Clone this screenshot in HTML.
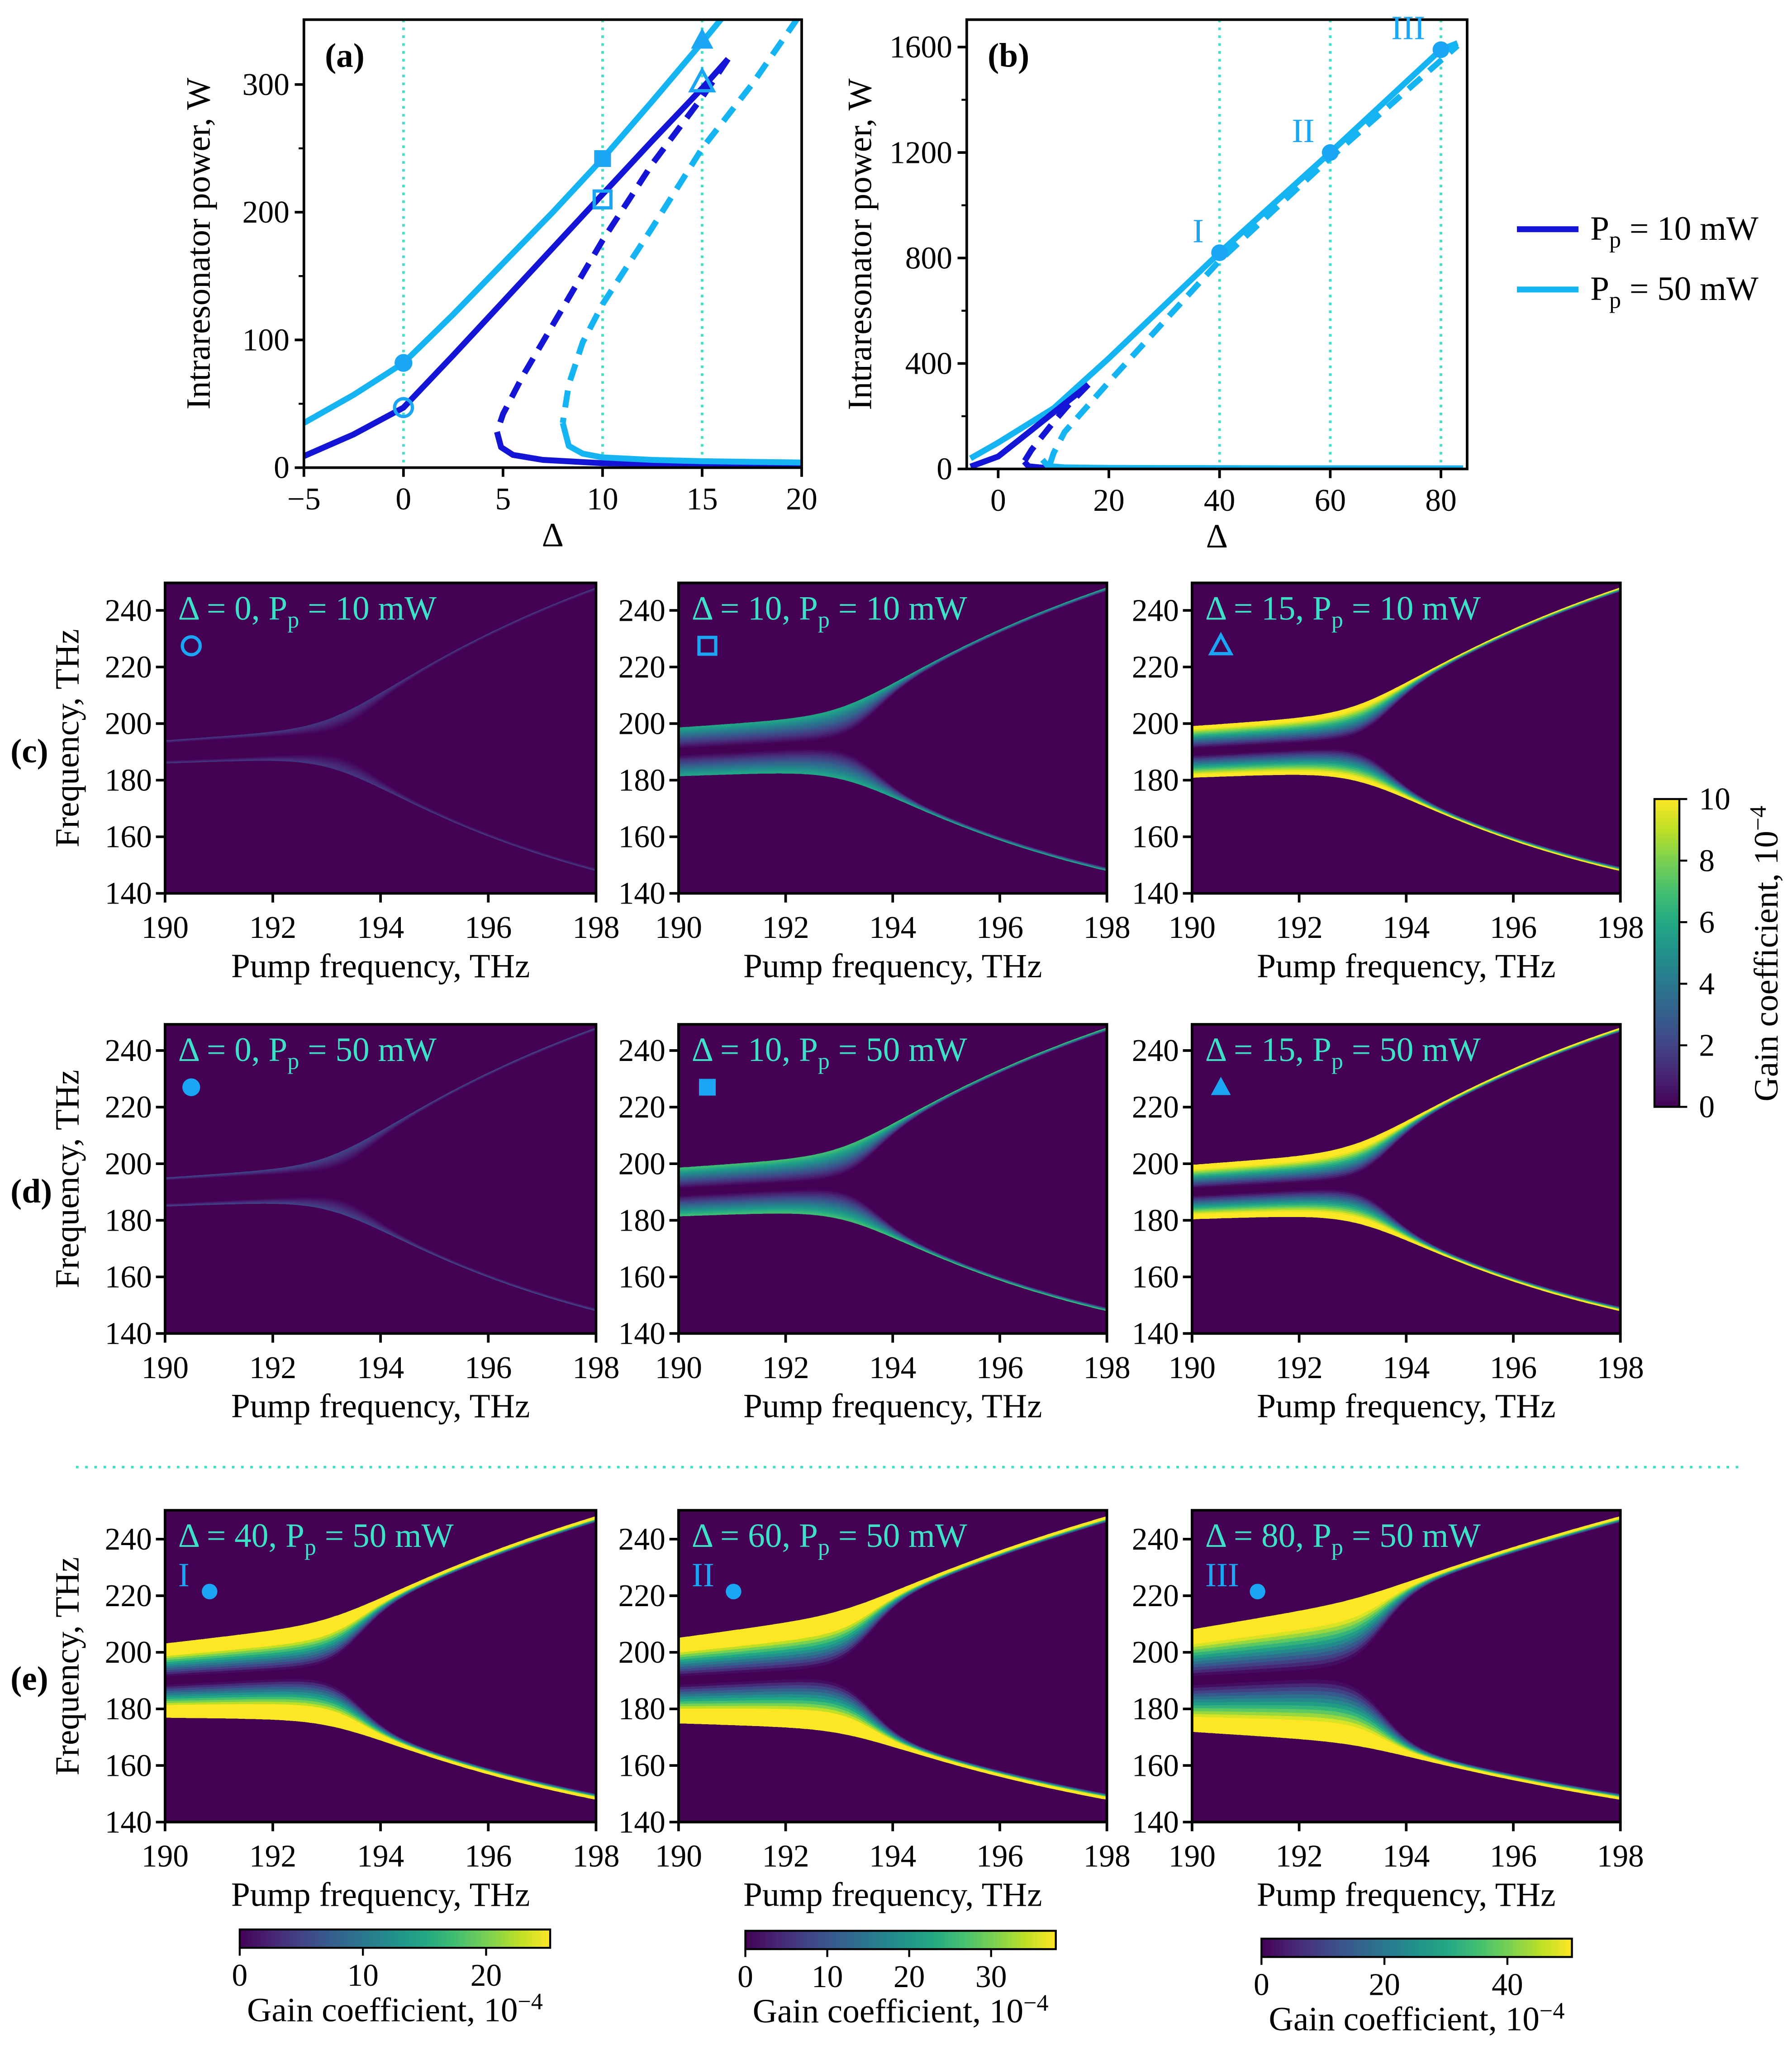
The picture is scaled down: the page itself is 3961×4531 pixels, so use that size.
<!DOCTYPE html>
<html><head><meta charset="utf-8">
<style>
html,body{margin:0;padding:0;background:#fff;}
svg{display:block;}
text{font-family:"Liberation Serif","DejaVu Serif",serif;}
</style></head>
<body>
<svg id="fig" xmlns="http://www.w3.org/2000/svg" width="3961" height="4531" viewBox="0 0 1368 1565" preserveAspectRatio="none">
<defs>
<linearGradient id="vir-v" x1="0" y1="1" x2="0" y2="0">
<stop offset="0" stop-color="#440154"/><stop offset="0.1" stop-color="#482475"/><stop offset="0.2" stop-color="#414487"/><stop offset="0.3" stop-color="#355f8d"/><stop offset="0.4" stop-color="#2a788e"/><stop offset="0.5" stop-color="#21918c"/><stop offset="0.6" stop-color="#22a884"/><stop offset="0.7" stop-color="#44bf70"/><stop offset="0.8" stop-color="#7ad151"/><stop offset="0.9" stop-color="#bddf26"/><stop offset="1" stop-color="#fde725"/>
</linearGradient>
<linearGradient id="vir-h" x1="0" y1="0" x2="1" y2="0">
<stop offset="0" stop-color="#440154"/><stop offset="0.1" stop-color="#482475"/><stop offset="0.2" stop-color="#414487"/><stop offset="0.3" stop-color="#355f8d"/><stop offset="0.4" stop-color="#2a788e"/><stop offset="0.5" stop-color="#21918c"/><stop offset="0.6" stop-color="#22a884"/><stop offset="0.7" stop-color="#44bf70"/><stop offset="0.8" stop-color="#7ad151"/><stop offset="0.9" stop-color="#bddf26"/><stop offset="1" stop-color="#fde725"/>
</linearGradient>
</defs>
<g id="root"></g>
</svg>
<script>
// ---------- data: panel (a) ----------
const aDarkSolidUpper = [[-5,9],[-2.5,26],[0,47],[2.5,88],[5,130],[7.5,172],[10,214],[12.5,256],[15,297],[16.3,320]];
const aDarkDashed = [[16.3,320],[15,290],[12.5,238],[10,178],[8,125],[6,72],[5,42],[4.7,28]];
const aDarkSolidLower = [[4.7,28],[4.9,16],[5.5,10],[7,6],[10,3.5],[15,2.5],[20,2]];
const aLightSolidUpper = [[-5,35],[-2.5,57],[0,82],[2.5,120],[5,160],[7.5,200],[10,242],[12.5,287],[15,333],[16,352]];
const aLightDashed = [[19.8,352],[17.5,300],[15,250],[12.5,188],[10,128],[9,98],[8.3,65],[8.0,35]];
const aLightSolidLower = [[8.0,35],[8.3,17],[9,11],[10,8],[12.5,6],[15,5],[20,4]];
// ---------- data: panel (b) ----------
const bLightSolid = [[-5,40],[0,100],[10,230],[20,420],[40,820],[60,1200],[80,1590],[83,1615]];
const bLightDashed = [[9.3,15],[10,60],[12,140],[20,330],[40,790],[60,1180],[83,1605]];
const bDarkSolid = [[-5,9],[0,47],[5,130],[10,214],[15,297],[16.3,320]];
const bDarkDashed = [[16.3,320],[12.5,238],[10,178],[8,125],[6,72],[4.7,28]];
const bLightLower = [[8.0,35],[9,11],[12,6],[20,4],[40,3],[84,2]];
const bDarkLower = [[4.7,28],[5.5,10],[8,5],[20,3],[84,2]];
const bPoints = [[40,820],[60,1200],[80,1590]];
const bPointLabels = ["I","II","III"];
// ---------- data: heatmaps ----------
const hmLabelsDelta = ["0","10","15","0","10","15","40","60","80"];
const hmLabelsPower = ["10","10","10","50","50","50","50","50","50"];
const hmPeak = [0.16, 0.6, 1.15, 0.2, 0.7, 1.25, 1.6, 1.6, 1.5];   // peak gain relative to its colorbar max
const hmOuterOffset0 = [4, 8.5, 9, 5, 8.5, 9.5, 13, 15, 18];     // THz offset of outer band edge at 190 THz
const hmSlope = [0.3, 0.3, 0.3, 0.3, 0.3, 0.4, 1.2, 1.6, 2.2];
const hmInnerGap = [3.4, 1.2, 1.3, 4.2, 1.3, 1.4, 1.6, 1.6, 1.7];
const hmTailWidth = [0.9, 1.1, 1.3, 0.9, 1.1, 1.4, 2.0, 2.0, 2.0];
const xTicksHm = [190,192,194,196,198];
const yTicksHm = [140,160,180,200,220,240];
const cbRightTicks = [0,2,4,6,8,10];
const cbBottomMax = [25.2, 37.9, 50.5];
const cbBottomTicks = [[0,10,20],[0,10,20,30],[0,20,40]];

const NS="http://www.w3.org/2000/svg";
const root=document.getElementById('root');
function el(tag,attrs,parent){const e=document.createElementNS(NS,tag);for(const k in attrs)e.setAttribute(k,attrs[k]);(parent||root).appendChild(e);return e;}
function txt(str,attrs,parent){const t=el('text',attrs,parent);t.textContent=str;return t;}

const VIR=["#440154","#482475","#414487","#355f8d","#2a788e","#21918c","#22a884","#44bf70","#7ad151","#bddf26","#fde725"];
function hex(c){return [parseInt(c.substr(1,2),16),parseInt(c.substr(3,2),16),parseInt(c.substr(5,2),16)];}
function viridis(v){v=Math.max(0,Math.min(1,v));const s=v*10;const i=Math.min(9,Math.floor(s));const f=s-i;const a=hex(VIR[i]),b=hex(VIR[i+1]);return `rgb(${Math.round(a[0]+(b[0]-a[0])*f)},${Math.round(a[1]+(b[1]-a[1])*f)},${Math.round(a[2]+(b[2]-a[2])*f)})`;}

const DARK="#1414d6", LIGHT="#14b4f2", TURQ="#3fe0c8", MARK="#1aa6f5";
const FT=24, FTT=26;

function linePanel(cfg){
  const g=el('g',{});
  
  
  const {x0,x1,y0,y1,X,Y}=cfg;
  const clipId=cfg.name+'-clip';
  const cp=el('clipPath',{id:clipId},g);el('rect',{x:x0,y:y0,width:x1-x0,height:y1-y0},cp);
  const plot=el('g',{'clip-path':`url(#${clipId})`},g);
  cfg.vlines.forEach(v=>{const l=el('line',{x1:X(v),x2:X(v),y1:y0,y2:y1,stroke:TURQ,'stroke-width':2,'stroke-dasharray':'2 4'},plot);
    
    });
  cfg.series.forEach(s=>{
    const d=s.pts.map((p,i)=>(i?'L':'M')+X(p[0]).toFixed(1)+','+Y(p[1]).toFixed(1)).join(' ');
    const path=el('path',{d:d,fill:'none',stroke:s.color,'stroke-width':4.5,'stroke-dasharray':s.dash?'13 8':'none','stroke-linejoin':'round'},plot);
    
    
  });
  el('rect',{x:x0,y:y0,width:x1-x0,height:y1-y0,fill:'none',stroke:'#000','stroke-width':2},g);
  cfg.xticks.forEach(v=>{const x=X(v);el('line',{x1:x,x2:x,y1:y1,y2:y1+7,stroke:'#000','stroke-width':2},g);
    const t=txt(v<0?'\u2212'+(-v):String(v),{x:x,y:y1+32,'font-size':FT,'text-anchor':'middle'},g);
    
    });
  cfg.yticks.forEach(v=>{const y=Y(v);el('line',{x1:x0,x2:x0-7,y1:y,y2:y,stroke:'#000','stroke-width':2},g);
    const t=txt(String(v),{x:x0-11,y:y+8,'font-size':FT,'text-anchor':'end'},g);
    
    });
  cfg.yminor.forEach(v=>{const y=Y(v);el('line',{x1:x0,x2:x0-4,y1:y,y2:y,stroke:'#000','stroke-width':1.5},g);});
  const xt=txt('\u0394',{x:(x0+x1)/2,y:y1+60,'font-size':FTT,'text-anchor':'middle'},g);
  
  
  const yt=txt('Intraresonator power, W',{x:0,y:0,'font-size':FTT,'text-anchor':'middle',transform:`translate(${cfg.ytx},${(y0+y1)/2}) rotate(-90)`},g);
  
  
  const pl=txt(cfg.label,{x:x0+16,y:y0+36,'font-size':FTT,'font-weight':'bold'},g);
  
  
  return {g,plot};
}

const Xa=d=>232+(d+5)*15.2, Ya=P=>357-P*0.975;
const pa=linePanel({name:'panel-a',x0:232,x1:612,y0:15,y1:357,X:Xa,Y:Ya,vlines:[0,10,15],
  xticks:[-5,0,5,10,15,20],yticks:[0,100,200,300],yminor:[50,150,250],ytx:160,label:'(a)',
  series:[
   {name:'series-10mw-stable-upper',pts:aDarkSolidUpper,color:DARK},
   {name:'series-10mw-unstable',pts:aDarkDashed,color:DARK,dash:true},
   {name:'series-10mw-stable-lower',pts:aDarkSolidLower,color:DARK},
   {name:'series-50mw-stable-upper',pts:aLightSolidUpper,color:LIGHT},
   {name:'series-50mw-unstable',pts:aLightDashed,color:LIGHT,dash:true},
   {name:'series-50mw-stable-lower',pts:aLightSolidLower,color:LIGHT}]});
function marker(g,type,x,y,filled,name,size){
  size=size||8;let m;
  const fill=filled?MARK:'none';
  if(type==='circle') m=el('circle',{cx:x,cy:y,r:size*0.85,fill:fill,stroke:MARK},g);
  else if(type==='square') m=el('rect',{x:x-size*0.8,y:y-size*0.8,width:size*1.6,height:size*1.6,fill:fill,stroke:MARK},g);
  else m=el('polygon',{points:`${x},${y-size} ${x+size*0.95},${y+size*0.75} ${x-size*0.95},${y+size*0.75}`,fill:fill,stroke:MARK},g);
  m.setAttribute('stroke-width',filled?0:2.5);
  
  
  return m;
}
marker(pa.g,'circle',Xa(0),Ya(82),true,'marker-filled-circle');
marker(pa.g,'circle',Xa(0),Ya(47),false,'marker-hollow-circle');
marker(pa.g,'square',Xa(10),Ya(242),true,'marker-filled-square');
marker(pa.g,'square',Xa(10),Ya(210),false,'marker-hollow-square');
marker(pa.g,'tri',Xa(15),Ya(335),true,'marker-filled-triangle',9);
marker(pa.g,'tri',Xa(15),Ya(302),false,'marker-hollow-triangle',9);

const Xb=d=>762+d*4.225, Yb=P=>358-P*0.2013;
const pb=linePanel({name:'panel-b',x0:738,x1:1120,y0:15,y1:358,X:Xb,Y:Yb,vlines:[40,60,80],
  xticks:[0,20,40,60,80],yticks:[0,400,800,1200,1600],yminor:[200,600,1000,1400],ytx:665,label:'(b)',
  series:[
   {name:'series-10mw-lower',pts:bDarkLower,color:DARK},
   {name:'series-50mw-lower',pts:bLightLower,color:LIGHT},
   {name:'series-50mw-unstable',pts:bLightDashed,color:LIGHT,dash:true},
   {name:'series-50mw-stable',pts:bLightSolid,color:LIGHT},
   {name:'series-10mw-unstable',pts:bDarkDashed,color:DARK,dash:true},
   {name:'series-10mw-stable',pts:bDarkSolid,color:DARK}]});
bPoints.forEach((p,i)=>{
  marker(pb.g,'circle',Xb(p[0]),Yb(p[1]),true,'operating-point-'+bPointLabels[i],7.5);
  const t=txt(bPointLabels[i],{x:Xb(p[0])-12,y:Yb(p[1])-8,'font-size':FTT,fill:MARK,'text-anchor':'end'},pb.g);
  
  
});

const lg=el('g',{});


[[DARK,'10',175],[LIGHT,'50',221]].forEach(([c,v,y])=>{
  const e=el('g',{},lg);
  
  
  el('line',{x1:1158,x2:1205,y1:y,y2:y,stroke:c,'stroke-width':4.5},e);
  const t=el('text',{x:1214,y:y+8,'font-size':FTT},e);
  t.innerHTML='P<tspan font-size="18" dy="6">p</tspan><tspan dy="-6"> = '+v+' mW</tspan>';
});

// ---------- heatmaps ----------
const colX=[126,518,910], colW=[329,327,327];
const rows=[{top:445,y140:682},{top:782,y140:1018},{top:1153,y140:1391}];
const SC=2.16;
function sp(p){const w=0.45;return w*Math.log(1+Math.exp((p-193.1)/w));}
function rise(p){return 1-Math.exp(-sp(p)/6);}
function sig(z){return 1/(1+Math.exp(-z));}
const markerTypes=[['circle',false],['square',false],['tri',false],['circle',true],['square',true],['tri',true]];
for(let i=0;i<9;i++){
  const r=Math.floor(i/3), c=i%3;
  const x0=colX[c], w=colW[c], y0=rows[r].top, y1=rows[r].y140;
  const PX=p=>x0+(p-190)/8*w, PY=f=>y1-(f-140)*SC;
  const g=el('g',{});
  
  
  const cid='hm-clip-'+i;
  const cp=el('clipPath',{id:cid},g);el('rect',{x:x0,y:y0,width:w,height:y1-y0},cp);
  const plot=el('g',{'clip-path':`url(#${cid})`},g);
  el('rect',{x:x0,y:y0,width:w,height:y1-y0,fill:'#440154'},plot);
  const d0=hmOuterOffset0[i], a=hmSlope[i], gap=hmInnerGap[i], peak=hmPeak[i], tw=hmTailWidth[i];
  const K=(50-d0-8*a)/rise(198);
  const ps=[];for(let p=190;p<=198.001;p+=0.05)ps.push(p);
  const outer=p=>d0+a*(p-190)+K*rise(p);
  const inner=p=>{const o=outer(p);const base=gap+(o-tw-gap)*sig((p-193.5)/0.3);return Math.min(base,o-tw);};
  const L=16;
  for(const sign of [1,-1]){
    for(let l=0;l<L;l++){
      const f=l/L;
      const val=peak*Math.pow((l+0.5)/L,1.1);
      let up=[],dn=[];
      ps.forEach(p=>{const o=outer(p),ii=inner(p);const e=ii+f*(o-ii);
        up.push([PX(p),PY(p+sign*o)]);dn.push([PX(p),PY(p+sign*e)]);});
      const pts=up.concat(dn.reverse()).map(q=>q[0].toFixed(1)+','+q[1].toFixed(1)).join(' ');
      const poly=el('polygon',{points:pts,fill:viridis(val),stroke:viridis(val),'stroke-width':0.4},plot);
      
      
    }
  }
  el('rect',{x:x0,y:y0,width:w,height:y1-y0,fill:'none',stroke:'#000','stroke-width':2},g);
  xTicksHm.forEach(v=>{const x=PX(v);el('line',{x1:x,x2:x,y1:y1,y2:y1+7,stroke:'#000','stroke-width':2},g);
    const t=txt(String(v),{x:x,y:y1+34,'font-size':FT,'text-anchor':'middle'},g);
    
    });
  yTicksHm.forEach(v=>{const y=PY(v);el('line',{x1:x0,x2:x0-7,y1:y,y2:y,stroke:'#000','stroke-width':2},g);
    const t=txt(String(v),{x:x0-10,y:y+8,'font-size':FT,'text-anchor':'end'},g);
    
    });
  const xt=txt('Pump frequency, THz',{x:x0+w/2,y:y1+64,'font-size':FTT,'text-anchor':'middle'},g);
  
  
  if(c===0){
    const yt=txt('Frequency, THz',{x:0,y:0,'font-size':FTT,'text-anchor':'middle',transform:`translate(${x0-66},${(y0+y1)/2}) rotate(-90)`},g);
    
    
  }
  const lab=el('text',{x:x0+10,y:y0+28,'font-size':FTT,fill:TURQ},g);
  lab.innerHTML='\u0394 = '+hmLabelsDelta[i]+', P<tspan font-size="18" dy="6">p</tspan><tspan dy="-6"> = '+hmLabelsPower[i]+' mW</tspan>';
  
  
  if(i<6){
    const [mt,mf]=markerTypes[i];
    marker(g,mt,x0+(c===0?20:22),y0+48,mf,'panel-marker',8);
  } else {
    const nm=bPointLabels[i-6];
    const t=txt(nm,{x:x0+10,y:y0+58,'font-size':FTT,fill:MARK},g);
    
    
    marker(g,'circle',x0+26+nm.length*8,y0+62,true,'panel-marker',7);
  }
}
[['(c)',582],['(d)',918],['(e)',1290]].forEach(([s,y])=>{const t=txt(s,{x:8,y:y,'font-size':FTT,'font-weight':'bold'});
  
  });
const sep=el('line',{x1:58,x2:1332,y1:1120,y2:1120,stroke:TURQ,'stroke-width':2,'stroke-dasharray':'2 5'});



const cbr=el('g',{});


el('rect',{x:1263,y:610,width:19,height:235,fill:'url(#vir-v)',stroke:'#000','stroke-width':1.5},cbr);
cbRightTicks.forEach(v=>{const y=845-v/10*235;el('line',{x1:1282,x2:1288,y1:y,y2:y,stroke:'#000','stroke-width':1.5},cbr);
  const t=txt(String(v),{x:1297,y:y+8,'font-size':FT},cbr);
  
  });
const cbt=el('text',{x:0,y:0,'font-size':FTT,'text-anchor':'middle',transform:'translate(1357,728) rotate(-90)'},cbr);
cbt.innerHTML='Gain coefficient, 10<tspan font-size="18" dy="-9">\u22124</tspan>';



[[183,420,1473],[569,806,1474],[963,1200,1480]].forEach(([a,b,y],j)=>{
  const g=el('g',{});
  
  
  el('rect',{x:a,y:y,width:b-a,height:14,fill:'url(#vir-h)',stroke:'#000','stroke-width':1.5},g);
  const mx=cbBottomMax[j];
  cbBottomTicks[j].forEach(v=>{const x=a+v/mx*(b-a);el('line',{x1:x,x2:x,y1:y+14,y2:y+20,stroke:'#000','stroke-width':1.5},g);
    const t=txt(String(v),{x:x,y:y+43,'font-size':FT,'text-anchor':'middle'},g);
    
    });
  const t=el('text',{x:(a+b)/2,y:y+70,'font-size':FTT,'text-anchor':'middle'},g);
  t.innerHTML='Gain coefficient, 10<tspan font-size="18" dy="-9">\u22124</tspan>';
  
  
});
</script>
</body></html>
